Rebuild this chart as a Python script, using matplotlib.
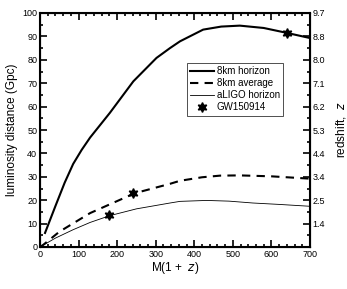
import matplotlib
matplotlib.use("Agg")
import matplotlib.pyplot as plt
from matplotlib.ticker import MultipleLocator

plt.rcParams['font.family'] = ['Liberation Sans', 'DejaVu Sans']

# curves
h_mass = [13, 40, 64, 86, 108, 130, 181, 242, 302, 337, 363, 423, 470, 518, 580, 640, 700]
horizon_8km = [6, 17.5, 27.5, 35.5, 41.5, 46.8, 57.3, 70.8, 80.8, 85, 87.9, 92.9, 94.2, 94.6, 93.6, 91.5, 89.3]

a_mass = [0, 9, 50, 130, 246, 337, 363, 420, 467, 518, 600, 700]
average_8km = [0, 1, 6.5, 14.5, 23, 27, 28.3, 29.8, 30.5, 30.6, 30.2, 29.2]

l_mass = [0, 40, 86, 130, 181, 250, 337, 363, 432, 490, 552, 620, 700]
aligo_horizon = [0, 3.8, 7.4, 10.5, 13.4, 16.3, 18.8, 19.5, 19.9, 19.6, 18.8, 18.2, 17.4]

gw_mass = [180, 240, 640]
gw_dist = [13.5, 23, 91.5]

z_labels = ['', '1.4', '2.5', '3.4', '4.4', '5.3', '6.2', '7.1', '8.0', '8.8', '9.7']

fig = plt.figure(figsize=(3.47, 2.89), dpi=100)
ax1 = fig.add_axes([40/347, 42/289, 270/347, 234/289])

ax1.plot(h_mass, horizon_8km, 'k-', lw=1.5, label='8km horizon')
ax1.plot(a_mass, average_8km, 'k--', lw=1.5, dashes=(4, 3), label='8km average')
ax1.plot(l_mass, aligo_horizon, 'k-', lw=0.6, label='aLIGO horizon')
ax1.plot(gw_mass, gw_dist, 'k', ls='none', marker=(6, 1, 0), ms=7, label='GW150914')

ax1.set_xlim(0, 700)
ax1.set_ylim(0, 100)
ax1.xaxis.set_major_locator(MultipleLocator(100))
ax1.xaxis.set_minor_locator(MultipleLocator(20))
ax1.yaxis.set_major_locator(MultipleLocator(10))
ax1.yaxis.set_minor_locator(MultipleLocator(5))
ax1.tick_params(which='both', direction='in', top=True, width=1.2, labelsize=6.5, pad=2)
ax1.tick_params(which='major', length=5)
ax1.tick_params(which='minor', length=2.5)
for s in ax1.spines.values():
    s.set_linewidth(1.5)
ax1.set_xlabel('M(1 +  $z$)', fontsize=8.5, labelpad=1)
ax1.set_ylabel('luminosity distance (Gpc)', fontsize=8.5, labelpad=3)

ax2 = ax1.twinx()
ax2.set_ylim(0, 100)
ax2.set_yticks(range(0, 101, 10))
ax2.set_yticklabels(z_labels)
ax2.yaxis.set_minor_locator(MultipleLocator(5))
ax2.tick_params(which='both', direction='in', width=1.2, labelsize=6.5, pad=2)
ax2.tick_params(which='major', length=5)
ax2.tick_params(which='minor', length=2.5)
ax2.set_ylabel('redshift,  $z$', fontsize=8.5, labelpad=6)

leg = ax1.legend(loc='upper left', bbox_to_anchor=(0.544, 0.786), fontsize=7,
                 frameon=True, fancybox=False, edgecolor='black', handlelength=2.4,
                 handletextpad=0.3, borderpad=0.35, labelspacing=0.2, borderaxespad=0)
leg.get_frame().set_linewidth(0.6)

fig.savefig('out.png', dpi=100)
